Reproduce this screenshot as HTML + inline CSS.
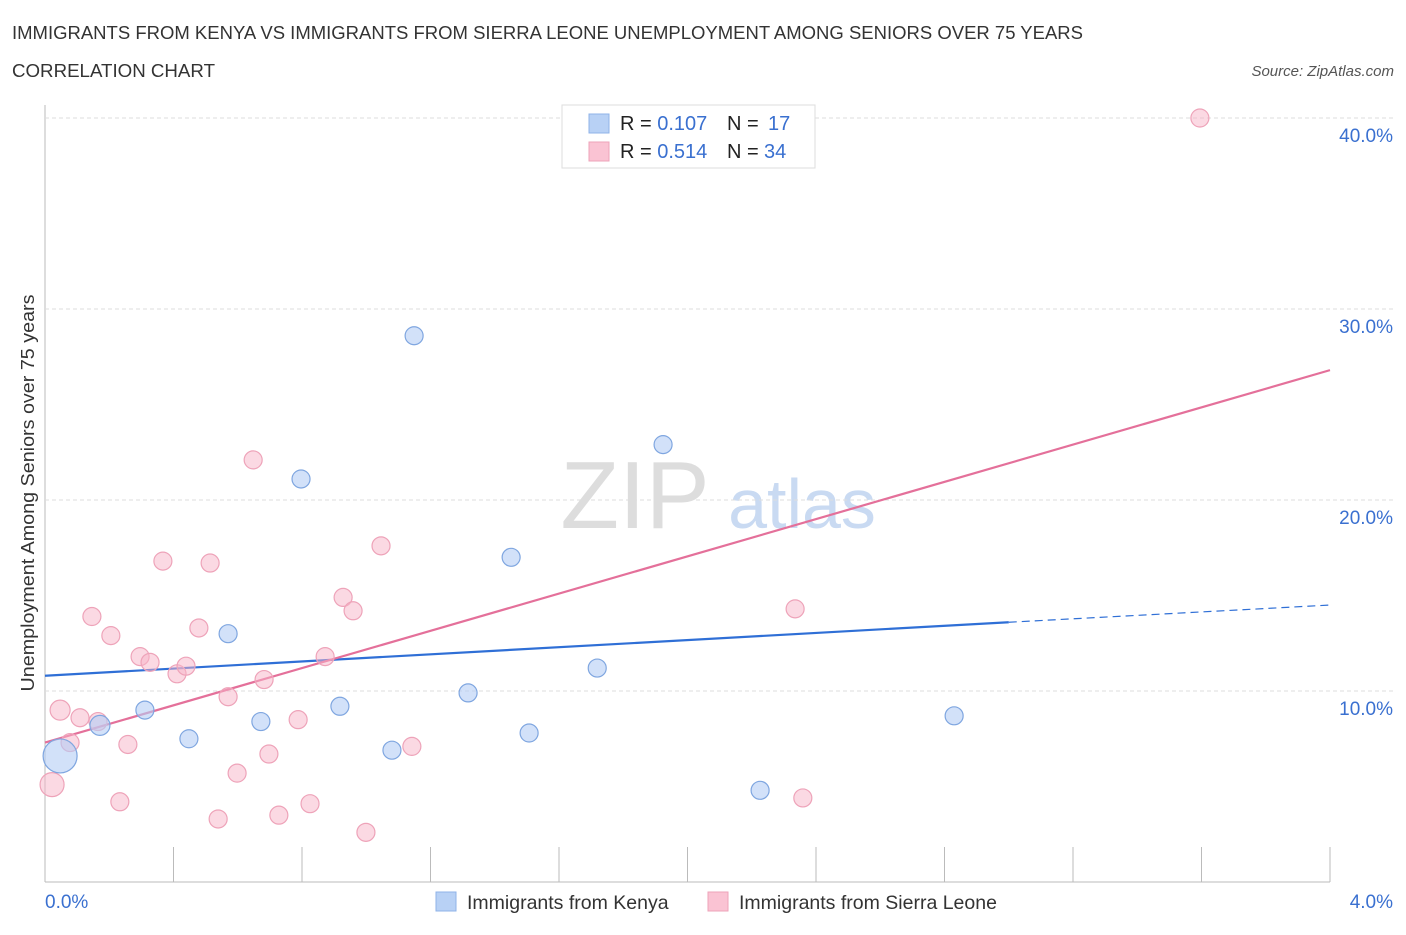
<!DOCTYPE html>
<html><head><meta charset="utf-8"><style>
body{margin:0;background:#fff;font-family:"Liberation Sans",sans-serif;}
svg text{font-family:"Liberation Sans",sans-serif;}
</style></head><body>
<svg id="c" width="1406" height="930" xmlns="http://www.w3.org/2000/svg">
<text x="12" y="39" font-size="18" fill="#333" textLength="1071" lengthAdjust="spacingAndGlyphs">IMMIGRANTS FROM KENYA VS IMMIGRANTS FROM SIERRA LEONE UNEMPLOYMENT AMONG SENIORS OVER 75 YEARS</text>
<text x="12" y="77" font-size="18" fill="#333" textLength="203" lengthAdjust="spacingAndGlyphs">CORRELATION CHART</text>
<text x="1394" y="76" font-size="15" font-style="italic" fill="#555" text-anchor="end">Source: ZipAtlas.com</text>
<text x="635" y="528" font-size="96" font-family="Liberation Serif" fill="#ddd" text-anchor="middle">ZIP</text>
<text x="802" y="528" font-size="70" fill="#c9daf2" text-anchor="middle">atlas</text>
<text transform="translate(34,493) rotate(-90)" font-size="18.5" fill="#333" text-anchor="middle" textLength="397" lengthAdjust="spacingAndGlyphs">Unemployment Among Seniors over 75 years</text>
<g id="grid"></g><g id="lines"></g><g id="pts"></g>
<g>
<rect x="562" y="105" width="253" height="63" fill="#fff" stroke="#ddd"/>
<rect x="589" y="114" width="20" height="19" fill="#b8d1f5" stroke="#8fb3e8"/>
<rect x="589" y="142" width="20" height="19" fill="#fac3d3" stroke="#eea3b9"/>
<text x="620" y="130" font-size="20" fill="#222">R = <tspan fill="#3a70d0">0.107</tspan><tspan x="727">N = </tspan><tspan x="768" fill="#3a70d0">17</tspan></text>
<text x="620" y="158" font-size="20" fill="#222">R = <tspan fill="#3a70d0">0.514</tspan><tspan x="727">N = </tspan><tspan x="764" fill="#3a70d0">34</tspan></text>
</g>
<g>
<rect x="436" y="892" width="20" height="19" fill="#b8d1f5" stroke="#8fb3e8"/>
<text x="467" y="909" font-size="19.5" fill="#333">Immigrants from Kenya</text>
<rect x="708" y="892" width="20" height="19" fill="#fac3d3" stroke="#eea3b9"/>
<text x="739" y="909" font-size="19.5" fill="#333">Immigrants from Sierra Leone</text>
</g>
</svg>
<script>
const yTicks=[10,20,30,40];
const yTickLabels=["10.0%","20.0%","30.0%","40.0%"];
const xTickLabels=["0.0%","4.0%"];
const kenyaX=[0.047,0.171,0.311,0.448,0.570,0.672,0.797,0.918,1.080,1.149,1.317,1.451,1.507,1.719,1.924,2.226,2.830];
const kenyaY=[6.6,8.2,9.0,7.5,13.0,8.4,21.1,9.2,6.9,28.6,9.9,17.0,7.8,11.2,22.9,4.8,8.7];
const kenyaR=[17,10,9,9,9,9,9,9,9,9,9,9,9,9,9,9,9];
const sierraX=[0.022,0.047,0.078,0.109,0.165,0.146,0.205,0.233,0.258,0.296,0.327,0.367,0.411,0.439,0.479,0.514,0.539,0.570,0.598,0.648,0.682,0.697,0.728,0.788,0.825,0.872,0.928,0.959,0.999,1.046,1.142,2.335,2.359,3.595];
const sierraY=[5.1,9.0,7.3,8.6,8.4,13.9,12.9,4.2,7.2,11.8,11.5,16.8,10.9,11.3,13.3,16.7,3.3,9.7,5.7,22.1,10.6,6.7,3.5,8.5,4.1,11.8,14.9,14.2,2.6,17.6,7.1,14.3,4.4,40.0];
const sierraR=[12,10,9,9,9,9,9,9,9,9,9,9,9,9,9,9,9,9,9,9,9,9,9,9,9,9,9,9,9,9,9,9,9,9];
const kenyaTrend=[[0,10.8],[3.0,13.6],[4.0,14.5]];
const sierraTrend=[[0,7.3],[4.0,26.8]];
const X=v=>45+v*321.25, Y=v=>882-v*19.1;
const NS="http://www.w3.org/2000/svg";
function mk(t,a,p){const e=document.createElementNS(NS,t);for(const k in a)e.setAttribute(k,a[k]);p.appendChild(e);return e;}
const g=document.getElementById('grid');
let ax=mk('line',{x1:45,y1:105,x2:45,y2:882,stroke:'#bbb'},g);


let bx=mk('line',{x1:45,y1:882,x2:1330,y2:882,stroke:'#bbb'},g);


for(let i=1;i<=10;i++){let t=mk('line',{x1:45+i*128.5,y1:847,x2:45+i*128.5,y2:882,stroke:'#bbb'},g);

}
yTicks.forEach((v,i)=>{let l=mk('line',{x1:45,y1:Y(v),x2:1395,y2:Y(v),stroke:'#ddd','stroke-dasharray':'4,3'},g);


let t=mk('text',{x:1393,y:Y(v)+24,'font-size':19,fill:'#3a70d0','text-anchor':'end'},g);t.textContent=yTickLabels[i];

});
let t0=mk('text',{x:45,y:908,'font-size':19,fill:'#3a70d0'},g);t0.textContent=xTickLabels[0];


let t1=mk('text',{x:1393,y:908,'font-size':19,fill:'#3a70d0','text-anchor':'end'},g);t1.textContent=xTickLabels[1];


const P=document.getElementById('pts');
sierraX.forEach((x,i)=>{let c=mk('circle',{cx:X(x),cy:Y(sierraY[i]),r:sierraR[i],fill:'rgba(248,180,200,0.5)',stroke:'#eea3b9','stroke-width':1.2},P);

});
kenyaX.forEach((x,i)=>{let c=mk('circle',{cx:X(x),cy:Y(kenyaY[i]),r:kenyaR[i],fill:'rgba(180,205,245,0.6)',stroke:'#7fa6e0','stroke-width':1.2},P);

});
const L=document.getElementById('lines');
let k1=mk('line',{x1:X(kenyaTrend[0][0]),y1:Y(kenyaTrend[0][1]),x2:X(kenyaTrend[1][0]),y2:Y(kenyaTrend[1][1]),stroke:'#2f6fd6','stroke-width':2.2},L);


let k2=mk('line',{x1:X(kenyaTrend[1][0]),y1:Y(kenyaTrend[1][1]),x2:X(kenyaTrend[2][0]),y2:Y(kenyaTrend[2][1]),stroke:'#2f6fd6','stroke-width':1.2,'stroke-dasharray':'8,5'},L);


let s1=mk('line',{x1:X(sierraTrend[0][0]),y1:Y(sierraTrend[0][1]),x2:X(sierraTrend[1][0]),y2:Y(sierraTrend[1][1]),stroke:'#e4709a','stroke-width':2.2},L);


</script>
</body></html>
